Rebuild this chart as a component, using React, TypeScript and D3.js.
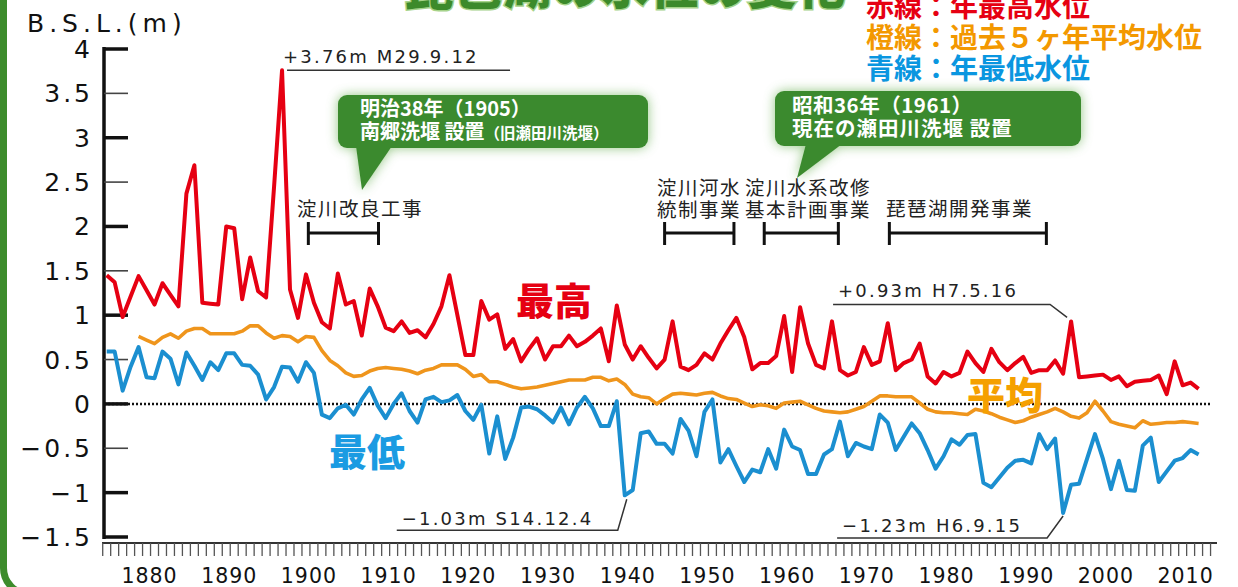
import React from "react";
import * as d3 from "d3";

const W = 1238;
const H = 587;

// ---- data ----
const maxStart = 1874;
const maxLevel = [
  1.45, 1.37, 0.98, 1.21, 1.44, 1.28, 1.12, 1.36, 1.23, 1.10, // 1874-1883
  2.37, 2.69, 1.14, 1.13, 1.12, 2.00, 1.98, 1.18, 1.65, 1.27, // 1884-1893
  1.20, 2.45, 3.76, 1.29, 0.97, 1.46, 1.14, 0.92, 0.85, 1.47, // 1894-1903
  1.12, 1.16, 0.77, 1.30, 1.10, 0.86, 0.82, 0.93, 0.80, 0.83, // 1904-1913
  0.75, 0.90, 1.10, 1.45, 1.00, 0.55, 0.55, 1.16, 0.95, 1.01, // 1914-1923
  0.62, 0.73, 0.48, 0.62, 0.74, 0.50, 0.65, 0.65, 0.77, 0.65, // 1924-1933
  0.70, 0.77, 0.85, 0.48, 1.11, 0.67, 0.50, 0.65, 0.52, 0.40, // 1934-1943
  0.50, 0.93, 0.42, 0.38, 0.44, 0.57, 0.50, 0.68, 0.83, 0.97, // 1944-1953
  0.75, 0.39, 0.46, 0.46, 0.54, 0.99, 0.36, 1.09, 0.68, 0.44, // 1954-1963
  0.40, 0.93, 0.38, 0.32, 0.36, 0.64, 0.44, 0.48, 0.91, 0.38, // 1964-1973
  0.46, 0.50, 0.68, 0.31, 0.23, 0.36, 0.31, 0.35, 0.59, 0.46, // 1974-1983
  0.36, 0.62, 0.47, 0.38, 0.46, 0.53, 0.35, 0.38, 0.38, 0.49, // 1984-1993
  0.34, 0.93, 0.30, 0.31, 0.32, 0.33, 0.27, 0.31, 0.20, 0.25, // 1994-2003
  0.26, 0.27, 0.32, 0.11, 0.48, 0.21, 0.24, 0.17,             // 2004-2011
];

const minStart = 1874;
const minLevel = [
  0.59, 0.59, 0.15, 0.42, 0.64, 0.30, 0.29, 0.59, 0.51, 0.22, // 1874-1883
  0.58, 0.43, 0.27, 0.47, 0.38, 0.57, 0.57, 0.44, 0.43, 0.33, // 1884-1893
  0.05, 0.19, 0.42, 0.41, 0.25, 0.47, 0.35, -0.12, -0.16, -0.05, // 1894-1903
  -0.01, -0.12, 0.05, 0.18, -0.02, -0.16, 0.00, 0.12, -0.08, -0.21, // 1904-1913
  0.05, 0.08, 0.02, 0.04, 0.10, -0.08, -0.18, -0.01, -0.56, -0.14, // 1914-1923
  -0.62, -0.38, -0.04, -0.03, -0.06, -0.13, -0.21, -0.04, -0.23, -0.04, // 1924-1933
  0.08, -0.05, -0.25, -0.25, 0.03, -1.03, -0.97, -0.33, -0.31, -0.45, // 1934-1943
  -0.45, -0.56, -0.17, -0.30, -0.59, -0.09, 0.05, -0.66, -0.51, -0.70, // 1944-1953
  -0.88, -0.74, -0.77, -0.51, -0.73, -0.29, -0.48, -0.52, -0.79, -0.79, // 1954-1963
  -0.57, -0.51, -0.20, -0.59, -0.44, -0.48, -0.51, -0.12, -0.21, -0.52, // 1964-1973
  -0.37, -0.22, -0.33, -0.52, -0.73, -0.59, -0.40, -0.46, -0.35, -0.34, // 1974-1983
  -0.89, -0.94, -0.83, -0.72, -0.64, -0.63, -0.67, -0.34, -0.51, -0.39, // 1984-1993
  -1.23, -0.91, -0.90, -0.62, -0.34, -0.62, -0.96, -0.64, -0.97, -0.98, // 1994-2003
  -0.47, -0.38, -0.88, -0.76, -0.64, -0.61, -0.52, -0.57,             // 2004-2011
];

const avgStart = 1878;
const avgLevel = [
  0.76, 0.72, 0.68, 0.75, 0.79, 0.74, 0.82, 0.85, 0.85, 0.79, // 1878-1887
  0.79, 0.79, 0.79, 0.82, 0.88, 0.88, 0.80, 0.74, 0.77, 0.76, // 1888-1897
  0.70, 0.76, 0.75, 0.60, 0.49, 0.43, 0.35, 0.31, 0.32, 0.37, // 1898-1907
  0.40, 0.41, 0.40, 0.39, 0.37, 0.34, 0.38, 0.40, 0.44, 0.44, // 1908-1917
  0.44, 0.39, 0.31, 0.33, 0.25, 0.25, 0.22, 0.19, 0.17, 0.18, // 1918-1927
  0.19, 0.21, 0.23, 0.25, 0.27, 0.27, 0.27, 0.30, 0.30, 0.26, // 1928-1937
  0.28, 0.22, 0.11, 0.08, 0.07, 0.00, 0.06, 0.11, 0.12, 0.11, // 1938-1947
  0.10, 0.12, 0.13, 0.09, 0.06, 0.05, 0.01, -0.03, -0.01, -0.02, // 1948-1957
  -0.05, 0.01, 0.02, 0.03, -0.01, -0.05, -0.08, -0.09, -0.10, -0.09, // 1958-1967
  -0.06, -0.03, 0.03, 0.09, 0.09, 0.08, 0.08, 0.08, 0.01, -0.06, // 1968-1977
  -0.09, -0.10, -0.10, -0.11, -0.12, -0.06, -0.08, -0.11, -0.15, -0.18, // 1978-1987
  -0.21, -0.19, -0.15, -0.12, -0.09, -0.05, -0.09, -0.14, -0.16, -0.10, // 1988-1997
  0.03, -0.08, -0.20, -0.23, -0.25, -0.27, -0.19, -0.23, -0.22, -0.21, // 1998-2007
  -0.21, -0.20, -0.21, -0.22,                                   // 2008-2011
];

const yTickValues = [-1.5, -1, -0.5, 0, 0.5, 1, 1.5, 2, 2.5, 3, 3.5, 4];
const xLabelYears = [1880, 1890, 1900, 1910, 1920, 1930, 1940, 1950, 1960, 1970, 1980, 1990, 2000, 2010];
const firstTickYear = 1874;
const lastTickYear = 2013;

const legendLines = [
  { text: "赤線：年最高水位", color: "#e60012" },
  { text: "橙線：過去５ヶ年平均水位", color: "#f39800" },
  { text: "青線：年最低水位", color: "#0a96e0" },
];

const projects = [
  { lines: ["淀川改良工事"], from: 1899.3, to: 1908.1, tx: 297 },
  { lines: ["淀川河水", "統制事業"], from: 1944.0, to: 1952.7, tx: 657 },
  { lines: ["淀川水系改修", "基本計画事業"], from: 1956.5, to: 1965.8, tx: 745 },
  { lines: ["琵琶湖開発事業"], from: 1972.2, to: 1991.9, tx: 886 },
];

// ---- styling ----
const RED = "#e60012";
const ORANGE = "#ef951c";
const BLUE = "#1b8fd0";
const GREEN = "#3b8a2e";
const NUM_FONT = "'DejaVu Sans', sans-serif";
const JP_FONT = "'Noto Sans CJK JP', 'Noto Sans', sans-serif";

const x = d3.scaleLinear().domain([1874, 2011]).range([106.7, 1198.6]);
const y = d3.scaleLinear().domain([-1.5, 4]).range([537, 49]);

const fmtTick = (v: number) => (v < 0 ? "\u2212" + String(-v) : String(v));

function linePath(values: number[], start: number) {
  const gen = d3
    .line<number>()
    .x((_, i) => x(start + i))
    .y((d) => y(d));
  return gen(values) || "";
}

function Callout({ bx, by, bw, bh, ptr, lines }: any) {
  return (
    <g>
      <g filter="url(#glow)" opacity={0.75}>
        <rect x={bx} y={by} width={bw} height={bh} rx={9} fill="#6fb35a" />
        <polygon points={ptr.map((p: number[]) => p.join(",")).join(" ")} fill="#6fb35a" />
      </g>
      <rect x={bx} y={by} width={bw} height={bh} rx={9} fill={GREEN} />
      <polygon points={ptr.map((p: number[]) => p.join(",")).join(" ")} fill={GREEN} />
      {lines}
    </g>
  );
}

export default function App() {
  const x0 = x.range()[0];
  const zeroY = y(0);
  const axisX = 104;
  const xAxisY = 543;

  const peakMax = { x: x(1896), y: y(3.76) };
  const peak95 = { x: x(1995), y: y(0.93) };
  const low39 = { x: x(1939), y: y(-1.03) };
  const low94 = { x: x(1994), y: y(-1.23) };

  const tickYears = d3.range(firstTickYear, lastTickYear + 1);

  return (
    <svg
      width={W}
      height={H}
      viewBox={`0 0 ${W} ${H}`}
      style={{ position: "absolute", left: 0, top: 0, display: "block", background: "#fff" }}
    >
      <defs>
        <filter id="glow" x="-20%" y="-50%" width="140%" height="200%">
          <feGaussianBlur stdDeviation="6" />
        </filter>
      </defs>

      {/* frame */}
      <rect x={3.5} y={-40} width={2000} height={634} rx={26} fill="#fff" stroke="#3d8c2c" strokeWidth={7} />

      {/* title (cut off at top) */}
      <text
        x={405}
        y={4}
        fontFamily={JP_FONT}
        fontWeight={900}
        fontSize={48}
        letterSpacing={1}
        fill="#3c8a2b"
        stroke="#a6d38a"
        strokeWidth={3}
        paintOrder="stroke"
      >
        琵琶湖の水位の変化
      </text>

      {/* legend */}
      {legendLines.map((l, i) => (
        <text
          key={i}
          x={866}
          y={17 + i * 31}
          fontFamily={JP_FONT}
          fontWeight={700}
          fontSize={28}
          fill={l.color}
        >
          {l.text}
        </text>
      ))}

      {/* y axis title */}
      <text x={27} y={32} fontFamily={NUM_FONT} fontSize={25} letterSpacing={5} fill="#111">
        B.S.L.(m)
      </text>

      {/* y axis */}
      <line x1={axisX} x2={axisX} y1={y(4) - 2} y2={y(-1.5) + 2} stroke="#111" strokeWidth={3.5} />
      {yTickValues.map((v) => {
        const major = Number.isInteger(v) || v === -1.5;
        return (
          <g key={v}>
            <line
              x1={axisX}
              x2={128}
              y1={y(v)}
              y2={y(v)}
              stroke={major ? "#111" : "#444"}
              strokeWidth={major ? 3.5 : 1.6}
            />
            <text
              x={93}
              y={y(v)}
              dy="0.36em"
              textAnchor="end"
              fontFamily={NUM_FONT}
              fontSize={25}
              letterSpacing={3}
              fill="#111"
            >
              {fmtTick(v)}
            </text>
          </g>
        );
      })}

      {/* zero dotted line */}
      <line x1={axisX} x2={1212} y1={zeroY} y2={zeroY} stroke="#111" strokeWidth={2.5} strokeDasharray="2,2" />

      {/* x axis */}
      <line x1={102} x2={1217} y1={xAxisY} y2={xAxisY} stroke="#333" strokeWidth={1.8} />
      {tickYears.map((yr) => (
        <line
          key={yr}
          x1={x(yr - 0.5)}
          x2={x(yr - 0.5)}
          y1={xAxisY}
          y2={556}
          stroke="#555"
          strokeWidth={1.3}
        />
      ))}
      {xLabelYears.map((yr) => (
        <text
          key={yr}
          x={x(yr) - 5}
          y={583}
          textAnchor="middle"
          fontFamily={NUM_FONT}
          fontSize={20.5}
          letterSpacing={1}
          fill="#111"
        >
          {yr}
        </text>
      ))}

      {/* project brackets */}
      {projects.map((p, i) => {
        const a = x(p.from);
        const b = x(p.to);
        const baseY = p.lines.length === 1 ? 216 : 195;
        return (
          <g key={i}>
            {p.lines.map((t, j) => (
              <text
                key={j}
                x={p.tx}
                y={baseY + (p.lines.length === 1 ? 0 : j * 22)}
                fontFamily={JP_FONT}
                fontSize={19.5}
                letterSpacing={1.5}
                fill="#222"
              >
                {t}
              </text>
            ))}
            <line x1={a} x2={b} y1={233} y2={233} stroke="#111" strokeWidth={3} />
            <line x1={a} x2={a} y1={222} y2={245} stroke="#111" strokeWidth={3} />
            <line x1={b} x2={b} y1={222} y2={245} stroke="#111" strokeWidth={3} />
          </g>
        );
      })}

      {/* callouts */}
      <Callout
        bx={338}
        by={95}
        bw={310}
        bh={53}
        ptr={[
          [356, 146],
          [392, 146],
          [362, 190],
        ]}
        lines={
          <g fontFamily={JP_FONT} fontWeight={700} fill="#fff">
            <text x={360} y={116} fontSize={20}>
              明治38年（1905）
            </text>
            <text x={360} y={139} fontSize={20}>
              南郷洗堰 設置
              <tspan fontSize={15.5}>（旧瀬田川洗堰）</tspan>
            </text>
          </g>
        }
      />
      <Callout
        bx={775}
        by={91}
        bw={306}
        bh={55}
        ptr={[
          [806, 144],
          [842, 144],
          [797, 178],
        ]}
        lines={
          <g fontFamily={JP_FONT} fontWeight={700} fill="#fff">
            <text x={792} y={113} fontSize={20.5} letterSpacing={0.5}>
              昭和36年（1961）
            </text>
            <text x={792} y={136} fontSize={20.5} letterSpacing={1}>
              現在の瀬田川洗堰 設置
            </text>
          </g>
        }
      />

      {/* data lines */}
      <path d={linePath(minLevel, minStart)} fill="none" stroke={BLUE} strokeWidth={4} strokeLinejoin="round" />
      <path d={linePath(avgLevel, avgStart)} fill="none" stroke={ORANGE} strokeWidth={3.6} strokeLinejoin="round" />
      <path d={linePath(maxLevel, maxStart)} fill="none" stroke={RED} strokeWidth={4} strokeLinejoin="round" />

      {/* extreme annotations */}
      <g fontFamily={NUM_FONT} fontSize={18} letterSpacing={2.2} fill="#222">
        <text x={peakMax.x + 1} y={peakMax.y - 7}>+3.76m  M29.9.12</text>
        <line x1={peakMax.x + 5} x2={peakMax.x + 228} y1={peakMax.y} y2={peakMax.y} stroke="#333" strokeWidth={1.5} />

        <text x={peak95.x - 233} y={peak95.y - 24}>+0.93m  H7.5.16</text>
        <polyline
          points={`${peak95.x - 238},${peak95.y - 17} ${peak95.x - 21},${peak95.y - 17} ${peak95.x - 4},${peak95.y - 4}`}
          fill="none"
          stroke="#333"
          strokeWidth={1.5}
        />

        <text x={low39.x - 223} y={low39.y + 30}>−1.03m  S14.12.4</text>
        <polyline
          points={`${low39.x - 228},${low39.y + 35} ${low39.x - 7},${low39.y + 35} ${low39.x + 2},${low39.y + 4}`}
          fill="none"
          stroke="#333"
          strokeWidth={1.5}
        />

        <text x={low94.x - 221} y={low94.y + 19}>−1.23m  H6.9.15</text>
        <polyline
          points={`${low94.x - 226},${low94.y + 25} ${low94.x - 16},${low94.y + 25} ${low94.x},${low94.y + 3}`}
          fill="none"
          stroke="#333"
          strokeWidth={1.5}
        />
      </g>

      {/* series labels */}
      <text x={516} y={315} fontFamily={JP_FONT} fontWeight={900} fontSize={38} fill={RED}>
        最高
      </text>
      <text x={329} y={466} fontFamily={JP_FONT} fontWeight={900} fontSize={38} fill="#1a9be2">
        最低
      </text>
      <text x={967} y={409} fontFamily={JP_FONT} fontWeight={900} fontSize={38} fill="#f5a000">
        平均
      </text>
    </svg>
  );
}
